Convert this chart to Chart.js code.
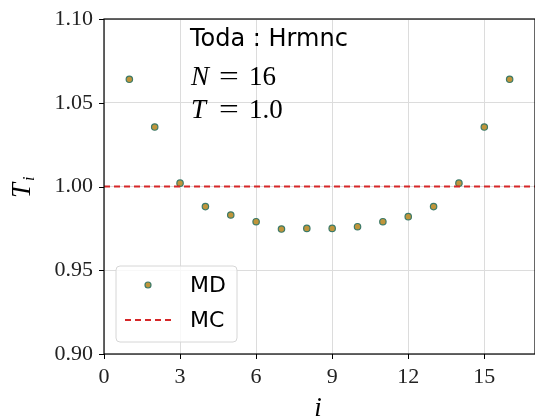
<!DOCTYPE html>
<html lang="en">
<head>
  <meta charset="UTF-8" />
  <title>Toda Hrmnc</title>
  <script src="https://cdn.jsdelivr.net/npm/chart.js"></script>
  <style>
    html, body { margin: 0; padding: 0; background: #fff; }
    #wrap { width: 535px; height: 419px; }
  </style>
</head>
<body>
  <div id="wrap"><canvas id="chart" width="535" height="419"></canvas></div>

  <script>
    // site index and MD temperatures
    const sites = [1, 2, 3, 4, 5, 6, 7, 8, 9, 10, 11, 12, 13, 14, 15, 16];
    const mdTemps = [1.064, 1.0355, 1.002, 0.988, 0.983, 0.979, 0.9746, 0.975,
                     0.975, 0.976, 0.979, 0.982, 0.988, 1.002, 1.0355, 1.064];
    const mcLevel = 1.0;
    const xRange = [0, 17];
    const xTicks = [0, 3, 6, 9, 12, 15];
    const yTicks = [0.90, 0.95, 1.00, 1.05, 1.10];

    const serif = '"Liberation Serif", "DejaVu Serif", serif';
    const sans = '"DejaVu Sans", sans-serif';

    const mdFill = '#c0953a';
    const mdEdge = '#3c7a68';
    const mcColor = '#d62728';

    // frame, tick marks, text annotations and legend
    const decor = {
      id: 'decor',
      afterDraw(chart) {
        const ctx = chart.ctx;
        const a = chart.chartArea;
        const xs = chart.scales.x, ys = chart.scales.y;
        ctx.save();

        // ticks
        ctx.strokeStyle = '#000';
        ctx.lineWidth = 1;
        ctx.beginPath();
        xTicks.forEach(v => {
          const px = Math.round(xs.getPixelForValue(v)) + 0.5;
          ctx.moveTo(px, a.bottom); ctx.lineTo(px, a.bottom + 5);
        });
        yTicks.forEach(v => {
          const py = Math.round(ys.getPixelForValue(v)) + 0.5;
          ctx.moveTo(a.left, py); ctx.lineTo(a.left - 5, py);
        });
        ctx.stroke();

        // spines
        ctx.lineWidth = 1.2;
        ctx.strokeRect(a.left, a.top, a.right - a.left, a.bottom - a.top);

        // annotations
        ctx.fillStyle = '#000';
        ctx.textBaseline = 'alphabetic';
        ctx.textAlign = 'left';
        ctx.font = '24px ' + sans;
        ctx.fillText('Toda : Hrmnc', 190, 46);

        function mathLine(sym, val, y) {
          ctx.font = 'italic 27px ' + serif;
          ctx.fillText(sym, 191, y);
          ctx.font = '27px ' + serif;
          ctx.save();
          ctx.translate(219, y);
          ctx.scale(1.3, 1);
          ctx.fillText('=', 0, 0);
          ctx.restore();
          ctx.fillText(val, 249, y);
        }
        mathLine('N', '16', 85);
        mathLine('T', '1.0', 118);

        // axis titles
        ctx.font = 'italic 27px ' + serif;
        ctx.textAlign = 'center';
        ctx.fillText('i', 318, 416);

        ctx.save();
        ctx.translate(30, 198);
        ctx.rotate(-Math.PI / 2);
        ctx.font = 'italic 27px ' + serif;
        ctx.textAlign = 'left';
        ctx.fillText('T', 0, 0);
        ctx.font = 'italic 16px ' + serif;
        ctx.fillText('i', 17, 4);
        ctx.restore();

        // legend
        const lx = 116, ly = 266, lw = 121, lh = 76;
        ctx.beginPath();
        ctx.roundRect(lx, ly, lw, lh, 4);
        ctx.fillStyle = 'rgba(255,255,255,0.8)';
        ctx.fill();
        ctx.strokeStyle = '#d6d6d6';
        ctx.lineWidth = 1;
        ctx.stroke();

        ctx.beginPath();
        ctx.arc(148, 285, 3, 0, Math.PI * 2);
        ctx.fillStyle = mdFill;
        ctx.fill();
        ctx.strokeStyle = mdEdge;
        ctx.lineWidth = 1.2;
        ctx.stroke();

        ctx.beginPath();
        ctx.setLineDash([6, 4]);
        ctx.strokeStyle = mcColor;
        ctx.lineWidth = 1.8;
        ctx.moveTo(125, 320); ctx.lineTo(172, 320);
        ctx.stroke();
        ctx.setLineDash([]);

        ctx.fillStyle = '#000';
        ctx.textAlign = 'left';
        ctx.textBaseline = 'middle';
        ctx.font = '22px ' + sans;
        ctx.fillText('MD', 190, 286);
        ctx.fillText('MC', 190, 321);

        ctx.restore();
      }
    };

    new Chart(document.getElementById('chart'), {
      type: 'scatter',
      data: {
        datasets: [
          {
            label: 'MC',
            type: 'line',
            data: xRange.map(x => ({ x: x, y: mcLevel })),
            borderColor: mcColor,
            borderWidth: 1.8,
            borderDash: [6, 4],
            pointRadius: 0,
            fill: false
          },
          {
            label: 'MD',
            data: sites.map((s, k) => ({ x: s, y: mdTemps[k] })),
            backgroundColor: mdFill,
            borderColor: mdEdge,
            borderWidth: 1.2,
            pointRadius: 3.2
          }
        ]
      },
      plugins: [decor],
      options: {
        responsive: false,
        animation: false,
        layout: { autoPadding: false, padding: { top: 19, right: -1, left: 0, bottom: 0 } },
        plugins: { legend: { display: false }, tooltip: { enabled: false } },
        scales: {
          x: {
            type: 'linear',
            min: xRange[0],
            max: xRange[1],
            afterBuildTicks: s => { s.ticks = xTicks.map(v => ({ value: v })); },
            afterFit: s => { s.height = 65; s.paddingLeft = 0; s.paddingRight = 0; },
            grid: { color: '#dcdcdc', tickLength: 0, drawTicks: false },
            border: { display: false },
            ticks: {
              color: '#222',
              font: { family: serif, size: 22 },
              padding: 10,
              callback: v => String(v)
            }
          },
          y: {
            min: 0.90,
            max: 1.10,
            afterBuildTicks: s => { s.ticks = yTicks.map(v => ({ value: v })); },
            afterFit: s => { s.width = 104; s.paddingTop = 0; s.paddingBottom = 0; },
            grid: { color: '#dcdcdc', tickLength: 0, drawTicks: false },
            border: { display: false },
            ticks: {
              color: '#222',
              font: { family: serif, size: 22 },
              padding: 11,
              callback: v => v.toFixed(2)
            }
          }
        }
      }
    });
  </script>
</body>
</html>
